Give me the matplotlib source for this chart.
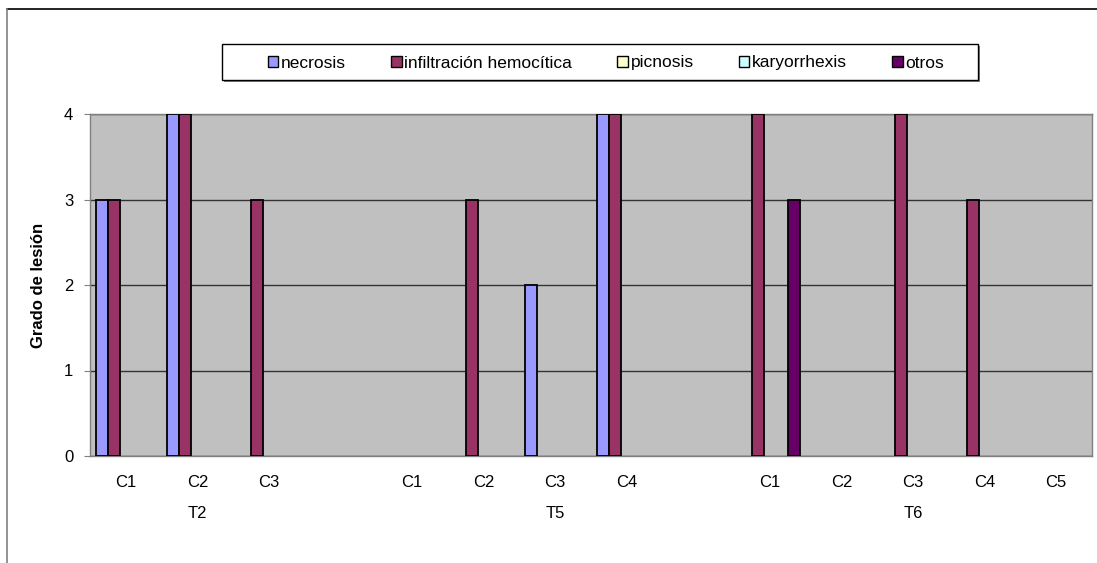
import numpy as np
import matplotlib.pyplot as plt
from matplotlib.lines import Line2D
from matplotlib.patches import Rectangle

plt.rcParams["font.family"] = ["Liberation Sans", "DejaVu Sans"]

# one slot per category, blank slots separate the groups
categories = ["C1", "C2", "C3", "", "C1", "C2", "C3", "C4", "",
              "C1", "C2", "C3", "C4", "C5"]
group_labels = ["T2", "T5", "T6"]
group_slots = [1, 6, 11]

series_names = ["necrosis", "infiltración hemocítica", "picnosis",
                "karyorrhexis", "otros"]
necrosis = [3, 4, 0, 0, 0, 0, 2, 4, 0, 0, 0, 0, 0, 0]
infiltracion = [3, 4, 3, 0, 0, 3, 0, 4, 0, 4, 0, 4, 3, 0]
picnosis = [0, 0, 0, 0, 0, 0, 0, 0, 0, 0, 0, 0, 0, 0]
karyorrhexis = [0, 0, 0, 0, 0, 0, 0, 0, 0, 0, 0, 0, 0, 0]
otros = [0, 0, 0, 0, 0, 0, 0, 0, 0, 3, 0, 0, 0, 0]

colors = ["#9999FF", "#993366", "#FFFFCC", "#CCFFFF", "#660066"]
fs = 12

W, H = 1097, 563
fig = plt.figure(figsize=(W / 100, H / 100), dpi=100)
ax = fig.add_axes([90 / W, 107 / H, 1002 / W, 342 / H])
ax.set_facecolor("#C0C0C0")

x = np.arange(len(categories))
width = 0.168
all_series = [necrosis, infiltracion, picnosis, karyorrhexis, otros]
for i, (name, vals, col) in enumerate(zip(series_names, all_series, colors)):
    vals = np.array(vals, dtype=float)
    vals[vals == 0] = np.nan  # Excel draws nothing for zero bars
    ax.bar(x + (i - 2) * width, vals, width, color=col,
           edgecolor="black", linewidth=1.3, label=name, zorder=3)

ax.set_xlim(-0.5, len(categories) - 0.5)
ax.set_ylim(0, 4)
ax.set_yticks([0, 1, 2, 3, 4])
ax.yaxis.grid(True, color="#333333", linewidth=1.0, zorder=1)
ax.set_axisbelow(True)
for side in ["top", "right", "bottom", "left"]:
    ax.spines[side].set_color("#808080")
    ax.spines[side].set_linewidth(1.0)
ax.tick_params(axis="y", length=4, color="#808080", labelsize=fs, pad=8)

ax.set_xticks(x)
ax.set_xticklabels(categories, fontsize=fs)
ax.tick_params(axis="x", length=0, pad=14)

for lbl, slot in zip(group_labels, group_slots):
    ax.text(slot, -0.67, lbl, ha="center", va="center", fontsize=fs)

ax.set_ylabel("Grado de lesión", fontsize=fs, fontweight="bold", labelpad=13)

# legend box with a small shadow, entries spread inside it
box = (222, 44, 756, 36)  # x, y from top, w, h in pixels
fig.add_artist(Rectangle(((box[0] + 2) / W, 1 - (box[1] + box[3] + 2) / H),
                         box[2] / W, box[3] / H, transform=fig.transFigure,
                         facecolor="#808080", edgecolor="none", zorder=4))
fig.add_artist(Rectangle((box[0] / W, 1 - (box[1] + box[3]) / H),
                         box[2] / W, box[3] / H, transform=fig.transFigure,
                         facecolor="white", edgecolor="black", linewidth=1.0,
                         zorder=5))
leg = fig.legend(loc="center", bbox_to_anchor=(268 / W, 1 - 81 / H, 676 / W, 36 / H),
                 mode="expand", ncol=5, fontsize=12.5, frameon=False,
                 handlelength=0.6, handleheight=0.6, handletextpad=0.15,
                 borderpad=0.0, borderaxespad=0)
leg.set_zorder(6)
for h in leg.legend_handles:
    h.set_edgecolor("black")
    h.set_linewidth(1.0)

# chart area border lines visible at top and left
fig.add_artist(Line2D([7 / W, 1.0], [1 - 9 / H, 1 - 9 / H],
                      color="black", linewidth=1.2))
fig.add_artist(Line2D([7 / W, 7 / W], [0, 1 - 9 / H],
                      color="#808080", linewidth=1.2))

fig.savefig("out.png", dpi=100)
